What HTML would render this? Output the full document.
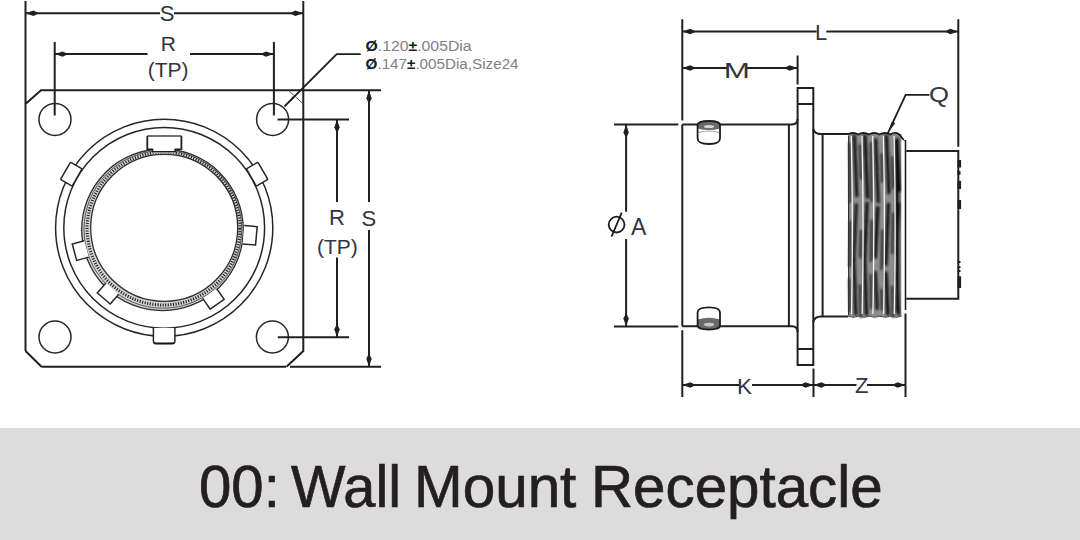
<!DOCTYPE html>
<html><head><meta charset="utf-8">
<style>
html,body{margin:0;padding:0;background:#fff;}
body{width:1080px;height:540px;overflow:hidden;position:relative;font-family:"Liberation Sans",sans-serif;}
#draw{position:absolute;left:0;top:0;}
#band{position:absolute;left:0;top:428px;width:1080px;height:112px;background:#dcdcdc;}
.tw{position:absolute;top:457.5px;transform-origin:0 0;-webkit-text-stroke:0.7px #231f20;font-size:59px;color:#231f20;white-space:nowrap;line-height:1;}
.k{stroke:#202020;stroke-width:2;fill:none;}
.m{stroke:#1c1c1c;stroke-width:1.8;fill:none;}
.t{stroke:#262626;stroke-width:1.5;fill:none;}
.g{stroke:#555;stroke-width:1;fill:none;}
.ah{fill:#202020;stroke:none;}
text{font-family:"Liberation Sans",sans-serif;fill:#34343e;}
</style></head>
<body>
<svg id="draw" width="1080" height="428" viewBox="0 0 1080 428">
<defs>
<filter id="bl" x="-10%" y="-10%" width="120%" height="120%"><feGaussianBlur stdDeviation="0.85"/></filter>
<path id="arr" d="M0,0 L-8,-2.7 L-13.5,0 L-8,2.7 Z"/>
</defs>
<!-- ===== LEFT: front view ===== -->
<g id="left">
 <!-- flange outline + S extension lines -->
 <path class="k" d="M25.5,1 V104 M25.5,104 V351 M25.5,104 L41,90.3 H381"/>
 <path class="k" d="M303.3,1 V351 L286.5,366.7 M41.5,366.7 L25.5,351 M41.5,366.7 H286 M290,366.7 H381"/>
 <path class="g" d="M288.6,90.5 L303.3,104"/>
 <!-- S top dim -->
 <path class="k" d="M25.5,13.3 H160 M174,13.3 H303.3"/>
 <use href="#arr" class="ah" transform="translate(25.5,13.3) rotate(180)"/>
 <use href="#arr" class="ah" transform="translate(303.3,13.3)"/>
 <!-- R top dim -->
 <path class="k" d="M54.7,41.9 V115.6 M273.9,41.9 V115.6 M54.7,54.1 H147.5 M190,54.1 H273.9"/>
 <use href="#arr" class="ah" transform="translate(54.7,54.1) rotate(180)"/>
 <use href="#arr" class="ah" transform="translate(273.9,54.1)"/>
 <!-- right R/S dims -->
 <path class="k" d="M277.5,119.6 H349 M277.8,337.3 H349 M337,119.6 V202 M337,257.4 V337.3 M369,90.3 V202 M369,230 V366.7"/>
 <use href="#arr" class="ah" transform="translate(337,119.6) rotate(-90)"/>
 <use href="#arr" class="ah" transform="translate(337,337.3) rotate(90)"/>
 <use href="#arr" class="ah" transform="translate(369,90.3) rotate(-90)"/>
 <use href="#arr" class="ah" transform="translate(369,366.7) rotate(90)"/>
 <!-- holes -->
 <circle class="t" cx="55" cy="119.4" r="16"/>
 <circle class="t" cx="272.6" cy="119.4" r="16"/>
 <circle class="t" cx="55" cy="337" r="16"/>
 <circle class="t" cx="272.4" cy="337" r="16"/>
 <!-- leader -->
 <path class="m" d="M284.5,106.3 L336.7,54.1 H360.7"/>
 <path class="ah" d="M284.5,106.3 L292.8,96.4 L294.4,98 Z"/>
 <!-- main circles -->
 <circle class="t" cx="164.2" cy="227.8" r="108.6"/>
 <circle class="t" cx="164.2" cy="227.8" r="100.4"/>
 <!-- outer ring tabs -->
 <g transform="translate(164.2,227.8)">
  <rect class="t" style="fill:#fff" x="100.6" y="-10" width="13.4" height="20" rx="1" transform="rotate(-150)"/>
  <rect class="t" style="fill:#fff" x="100.6" y="-10" width="13.4" height="20" rx="1" transform="rotate(-30)"/>
 </g>
 <path class="t" style="fill:#fff" d="M153.4,327.9 V341 Q153.4,343.8 156.5,343.8 H171.8 Q174.9,343.8 174.9,341 V327.9"/>
 <path d="M154.5,343.3 H174" stroke="#111" stroke-width="1.6"/>
 <!-- inner band -->
 <path d="M243.3,229.8 A80.8,80.8 0 1,0 81.7,229.8 A80.8,80.8 0 1,0 243.3,229.8 Z M237.7,227.8 A73.5,73.5 0 1,0 90.69999999999999,227.8 A73.5,73.5 0 1,0 237.7,227.8 Z" fill="#d2d2d2" fill-rule="evenodd"/>
 <circle cx="162.5" cy="229.8" r="80.8" fill="none" stroke="#2e2e2e" stroke-width="1.3"/>
 <circle cx="162.9" cy="229.3" r="78.9" fill="none" stroke="#5a5a5a" stroke-width="1"/>
 <circle cx="163.5" cy="228.6" r="76.4" fill="none" stroke="#1e1e1e" stroke-width="3" stroke-dasharray="1.1 1.5"/>
 <circle cx="164.2" cy="227.8" r="73.5" fill="none" stroke="#2e2e2e" stroke-width="1.3"/>
 <!-- inner tabs -->
 <g transform="translate(164.2,227.8)" >
  <path class="t" style="fill:#fff" d="M79.5,-9.2 H92.5 V9.2 H79.5" transform="rotate(5)"/>
  <path class="t" style="fill:#fff" d="M80,-8.5 H93 V8.5 H80" transform="rotate(55.3)"/>
  <path class="t" style="fill:#fff" d="M80,-8.5 H93 V8.5 H80" transform="rotate(130.5)"/>
  <path class="t" style="fill:#fff" d="M80.5,-8.5 H93 V8.5 H80.5" transform="rotate(164.8)"/>
 </g>
 <rect x="146.5" y="135" width="35.7" height="14.3" fill="#fff"/>
 <rect x="152.5" y="149" width="22.7" height="4.2" fill="#fff"/>
 <path d="M147.3,150 V136" stroke="#1e1e1e" stroke-width="1.8"/>
 <path d="M181.4,150 V136" stroke="#1e1e1e" stroke-width="1.8"/>
 <path d="M147.3,136 H181.4" stroke="#444" stroke-width="1.5"/>
 <path d="M147.3,149.2 H152.5 V151.7 H175.2 V149.2 H181.4" stroke="#1e1e1e" stroke-width="1.6" fill="none"/>
 <!-- labels -->
 <text x="167" y="20.9" font-size="22" text-anchor="middle">S</text>
 <text x="168.3" y="50.8" font-size="21" text-anchor="middle">R</text>
 <text x="168.2" y="77" font-size="21" text-anchor="middle">(TP)</text>
 <text x="337" y="225.2" font-size="22" text-anchor="middle">R</text>
 <text x="368.9" y="225.5" font-size="22" text-anchor="middle">S</text>
 <text x="337.4" y="254.2" font-size="21" text-anchor="middle">(TP)</text>
 <text x="365.6" y="50.8" font-size="14" style="fill:#80808a" textLength="106" lengthAdjust="spacingAndGlyphs"><tspan fill="#1a1a1a" font-weight="bold">&#216;</tspan>.120<tspan fill="#1a1a1a" font-weight="bold">&#177;</tspan>.005Dia</text>
 <text x="365.6" y="68.7" font-size="14" style="fill:#80808a" textLength="153" lengthAdjust="spacingAndGlyphs"><tspan fill="#1a1a1a" font-weight="bold">&#216;</tspan>.147<tspan fill="#1a1a1a" font-weight="bold">&#177;</tspan>.005Dia,Size24</text>
</g>
<!-- ===== RIGHT: side view ===== -->
<g id="right">
 <!-- L dim -->
 <path class="k" d="M682.3,19.2 V120.4 M958.3,19.2 V146.7 M682.3,31.5 H816.7 M826.3,31.5 H958.3"/>
 <use href="#arr" class="ah" transform="translate(682.3,31.5) rotate(180)"/>
 <use href="#arr" class="ah" transform="translate(958.3,31.5)"/>
 <!-- M dim -->
 <path class="k" d="M797.6,55.6 V84.4 M682.3,68 H727 M747,68 H797.6"/>
 <use href="#arr" class="ah" transform="translate(682.3,68) rotate(180)"/>
 <use href="#arr" class="ah" transform="translate(797.6,68)"/>
 <!-- OA dim -->
 <path class="k" d="M614,124.5 H678.3 M614,326.4 H678.3 M626.1,124.5 V211.7 M626.1,238.9 V326.4"/>
 <use href="#arr" class="ah" transform="translate(626.1,124.5) rotate(-90)"/>
 <use href="#arr" class="ah" transform="translate(626.1,326.4) rotate(90)"/>
 <!-- body -->
 <path class="k" d="M682.3,124.4 H697.5 M720,124.4 H792 Q797.6,124.4 797.6,119 M682.3,326.3 H697.5 M720,326.3 H792 Q797.6,326.3 797.6,332"/>
 <path class="k" d="M682.3,124.4 V326.3 M788.9,124.4 V326.3"/>
 <!-- flange -->
 <path class="k" d="M797.6,88.1 H813.3 V365 H797.6 Z M797.6,103.9 H813.3 M797.6,349 H813.3"/>
 <!-- neck -->
 <path class="k" d="M813.3,128.9 Q814.5,133.9 821,133.9 H848 M813.3,322 Q814.5,316.5 821,316.5 H848 M822.6,133.9 V316.5"/>
 <!-- end piece -->
 <path class="k" d="M905.3,140 V310 M906.5,151.1 H958.3 V298.8 H906.5"/>
 <path class="ah" d="M957.5,160 h3.6 v7.4 h-3.6z M957.5,171 h3 v3.8 h-3z M957.5,180.7 h3.6 v8.2 h-3.6z M957.5,200 h3.6 v8.9 h-3.6z M957.5,261 h3 v2 h-3z M957.5,266.2 h3 v2 h-3z M957.5,270.1 h3 v2 h-3z M957.5,276.3 h3.6 v11.7 h-3.6z"/>
 <!-- thread -->
 <g id="thread">
  <rect x="848" y="134" width="53.5" height="182" fill="#8c8c8c"/>
  <g filter="url(#bl)">
  <path d="M854.3,136.0 L856.8,195.7" stroke="#101010" stroke-width="3.0" stroke-linecap="round"/>
  <path d="M856.3,204.7 L853.8,260.0" stroke="#101010" stroke-width="2.8" stroke-linecap="round"/>
  <path d="M853.8,258.2 L855.8,314.0" stroke="#101010" stroke-width="3.0" stroke-linecap="round"/>
  <path d="M849.5,143.6 L850.3,201.9" stroke="#262626" stroke-width="2.2" stroke-linecap="round"/>
  <path d="M850.3,221.3 L849.5,266.1" stroke="#262626" stroke-width="2.2" stroke-linecap="round"/>
  <path d="M849.3,279.4 L850.1,311.3" stroke="#262626" stroke-width="2.2" stroke-linecap="round"/>
  <path d="M865.0,136.0 L867.5,197.2" stroke="#101010" stroke-width="3.3" stroke-linecap="round"/>
  <path d="M867.0,203.4 L864.5,261.9" stroke="#101010" stroke-width="3.2" stroke-linecap="round"/>
  <path d="M864.5,259.0 L866.5,314.0" stroke="#101010" stroke-width="3.2" stroke-linecap="round"/>
  <path d="M860.2,145.2 L861.0,178.7" stroke="#262626" stroke-width="2.2" stroke-linecap="round"/>
  <path d="M861.0,230.8 L860.2,257.3" stroke="#262626" stroke-width="2.2" stroke-linecap="round"/>
  <path d="M860.0,285.3 L860.8,317.1" stroke="#262626" stroke-width="2.2" stroke-linecap="round"/>
  <path d="M875.7,139.4 L878.2,201.7" stroke="#101010" stroke-width="3.0" stroke-linecap="round"/>
  <path d="M877.7,207.8 L875.2,257.1" stroke="#101010" stroke-width="3.4" stroke-linecap="round"/>
  <path d="M875.2,272.1 L877.2,308.6" stroke="#101010" stroke-width="2.9" stroke-linecap="round"/>
  <path d="M870.9,143.2 L871.7,201.2" stroke="#262626" stroke-width="2.2" stroke-linecap="round"/>
  <path d="M871.7,220.5 L870.9,261.0" stroke="#262626" stroke-width="2.2" stroke-linecap="round"/>
  <path d="M870.7,275.2 L871.5,308.2" stroke="#262626" stroke-width="2.2" stroke-linecap="round"/>
  <path d="M886.4,136.0 L888.9,192.6" stroke="#101010" stroke-width="3.2" stroke-linecap="round"/>
  <path d="M888.4,204.3 L885.9,264.5" stroke="#101010" stroke-width="3.2" stroke-linecap="round"/>
  <path d="M885.9,272.9 L887.9,314.0" stroke="#101010" stroke-width="3.4" stroke-linecap="round"/>
  <path d="M881.6,154.1 L882.4,181.9" stroke="#262626" stroke-width="2.2" stroke-linecap="round"/>
  <path d="M882.4,230.7 L881.6,269.2" stroke="#262626" stroke-width="2.2" stroke-linecap="round"/>
  <path d="M881.4,289.7 L882.2,309.7" stroke="#262626" stroke-width="2.2" stroke-linecap="round"/>
  <path d="M897.1,139.4 L899.6,190.4" stroke="#101010" stroke-width="3.3" stroke-linecap="round"/>
  <path d="M899.1,204.2 L896.6,254.6" stroke="#101010" stroke-width="2.8" stroke-linecap="round"/>
  <path d="M896.6,271.7 L898.6,314.0" stroke="#101010" stroke-width="2.9" stroke-linecap="round"/>
  <path d="M892.3,157.2 L893.1,187.9" stroke="#262626" stroke-width="2.2" stroke-linecap="round"/>
  <path d="M893.1,213.6 L892.3,253.1" stroke="#262626" stroke-width="2.2" stroke-linecap="round"/>
  <path d="M892.1,286.5 L892.9,316.9" stroke="#262626" stroke-width="2.2" stroke-linecap="round"/>
  <path d="M896.8,140 L897.5,312" stroke="#111" stroke-width="3.5"/>
  </g>
  <path d="M851.3,136 Q853.3,225 851.5,314" stroke="#f4f4f4" stroke-width="1.3" fill="none"/>
  <path d="M862.0,136 Q864.0,225 862.2,314" stroke="#f4f4f4" stroke-width="1.3" fill="none"/>
  <path d="M872.7,136 Q874.7,225 872.9,314" stroke="#f4f4f4" stroke-width="1.3" fill="none"/>
  <path d="M883.4,136 Q885.4,225 883.6,314" stroke="#f4f4f4" stroke-width="1.3" fill="none"/>
  <path d="M894.1,136 Q896.1,225 894.3,314" stroke="#f4f4f4" stroke-width="1.3" fill="none"/>
  <path d="M848.6,136 V315" stroke="#333" stroke-width="1.2"/>
  <path d="M847.5,134.5 q5.35,-3 10.7,0 q5.35,-3 10.7,0 q5.35,-3 10.7,0 q5.35,-3 10.7,0 q4,-3 8.5,-0.5 l5,6" stroke="#1a1a1a" stroke-width="1.8" fill="none"/>
  <path d="M848,316 q5.35,2 10.7,0 q5.35,2 10.7,0 q5.35,2 10.7,0 q5.35,2 10.7,0 q5.35,2 10.7,0" stroke="#444" stroke-width="1.3" fill="none"/>
  <rect x="901.6" y="141" width="3" height="174" fill="#fff"/>
 </g>
 <!-- screws -->
 <path d="M697.6,125 Q697.6,121 709,121 Q720,121 720,125 V128.5 Q709,131.5 697.6,128.5 Z" fill="#6a6a6a"/>
 <ellipse cx="709" cy="126.6" rx="5.2" ry="1.7" fill="#d8d8d8"/>
 <path class="m" d="M697.6,125 Q697.6,121 709,121 Q720,121 720,125 V138.5 Q720,144 709,144 Q697.6,144 697.6,138.5 Z"/>
 <path d="M699,132.5 Q709,129.5 719,132.5" stroke="#9a9a9a" stroke-width="1.2" fill="none"/>
 <path d="M697.6,319.5 Q709,316 720,319.5 V325.5 Q720,329.5 709,329.5 Q697.6,329.5 697.6,325.5 Z" fill="#6a6a6a"/>
 <ellipse cx="709" cy="324.6" rx="5.2" ry="1.8" fill="#c8c8c8"/>
 <path class="m" d="M697.6,325.5 Q697.6,329.5 709,329.5 Q720,329.5 720,325.5 V312.5 Q720,307.4 709,307.4 Q697.6,307.4 697.6,312.5 Z"/>
 <!-- Q leader -->
 <path class="m" d="M887.8,133.3 L905.6,94.8 H929.4"/>
 <path class="ah" d="M887.8,133.3 L891.8,121.5 L895.3,123.1 Z"/>
 <!-- K / Z dims -->
 <path class="k" d="M682.3,330.3 V397 M813.5,368.5 V397 M905.5,313.4 V397 M682.3,385 H739 M752,385 H813.5 M813.5,385 H856.5 M867,385 H905.5"/>
 <use href="#arr" class="ah" transform="translate(682.3,385) rotate(180)"/>
 <use href="#arr" class="ah" transform="translate(813.5,385)"/>
 <use href="#arr" class="ah" transform="translate(813.5,385) rotate(180)"/>
 <use href="#arr" class="ah" transform="translate(905.5,385)"/>
 <!-- labels -->
 <text x="821.2" y="39.6" font-size="22" text-anchor="middle">L</text>
 <text x="723.8" y="77.8" font-size="22.5" textLength="26.2" lengthAdjust="spacingAndGlyphs">M</text>
 <text x="929" y="101.9" font-size="21.5" textLength="20" lengthAdjust="spacingAndGlyphs">Q</text>
 <text x="638.6" y="235" font-size="23" text-anchor="middle">A</text>
 <text x="744.5" y="394" font-size="22.5" text-anchor="middle">K</text>
 <text x="861.7" y="393" font-size="22" text-anchor="middle">Z</text>
 <g class="t" style="stroke-width:1.8;stroke:#1e1e1e"><circle cx="616.6" cy="224.6" r="7.9"/><path d="M621.7,212.6 L611.5,236.7"/></g>
</g>
</svg>
<div id="band"></div>
<div class="tw" style="left:199.3px;transform:scaleX(0.985)">00:</div><div class="tw" style="left:291.3px;transform:scaleX(0.979)">Wall</div><div class="tw" style="left:414.3px;transform:scaleX(0.99)">Mount</div><div class="tw" style="left:590.7px;transform:scaleX(0.988)">Receptacle</div>
</body></html>
